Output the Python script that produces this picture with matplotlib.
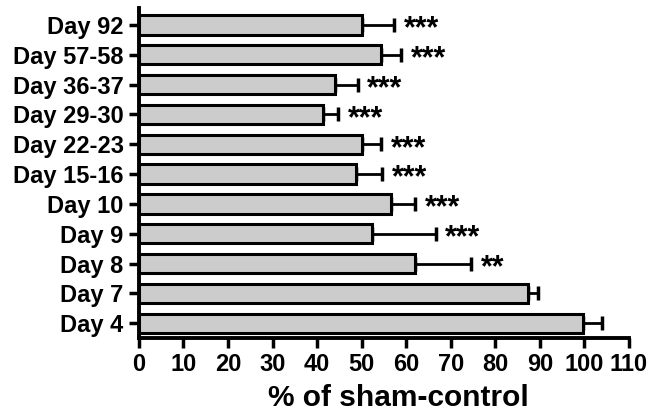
import matplotlib.pyplot as plt

plt.rcParams['font.family'] = ['Liberation Sans', 'DejaVu Sans']
plt.rcParams['font.weight'] = 'bold'

days = ['Day 4', 'Day 7', 'Day 8', 'Day 9', 'Day 10', 'Day 15-16',
        'Day 22-23', 'Day 29-30', 'Day 36-37', 'Day 57-58', 'Day 92']
means = [99.7, 87.3, 62.0, 52.4, 56.6, 48.7, 50.0, 41.4, 44.1, 54.3, 50.0]
errs = [4.2, 2.4, 12.5, 14.2, 5.4, 5.9, 4.3, 3.3, 5.0, 4.5, 7.2]
stars = ['', '', '**', '***', '***', '***', '***', '***', '***', '***', '***']

fig = plt.figure(figsize=(6.49, 4.17), dpi=100)
ax = fig.add_axes([0.214, 0.189, 0.755, 0.792])

pos = list(range(len(days)))
ax.barh(pos, means, height=0.65, color='#cccccc', edgecolor='black',
        linewidth=2.2, zorder=2)
ax.errorbar(means, pos, xerr=[[0] * len(errs), errs], fmt='none',
            ecolor='black', elinewidth=2, capsize=5, capthick=2.5, zorder=1)

# asterisks sit high in the font, so drop the baseline to centre them on the bar
for p, m, e, s in zip(pos, means, errs, stars):
    if s:
        ax.annotate(s, xy=(m + e + 2.2, p), xytext=(0, -9),
                    textcoords='offset points', ha='left', va='baseline',
                    fontsize=22, fontweight='bold')

ax.set_xlim(0, 110)
ax.set_ylim(-0.5, 10.57)
ax.set_xticks(range(0, 111, 10))
ax.set_yticks(pos)
ax.set_yticklabels(days)
ax.tick_params(labelsize=17, width=2.5, length=7.5)
ax.set_xlabel('% of sham-control', fontsize=21.5, fontweight='bold')
ax.xaxis.set_label_coords(0.53, -0.14)

for side in ['top', 'right']:
    ax.spines[side].set_visible(False)
for side in ['left', 'bottom']:
    ax.spines[side].set_linewidth(2.8)

fig.savefig('out.png', dpi=100)
